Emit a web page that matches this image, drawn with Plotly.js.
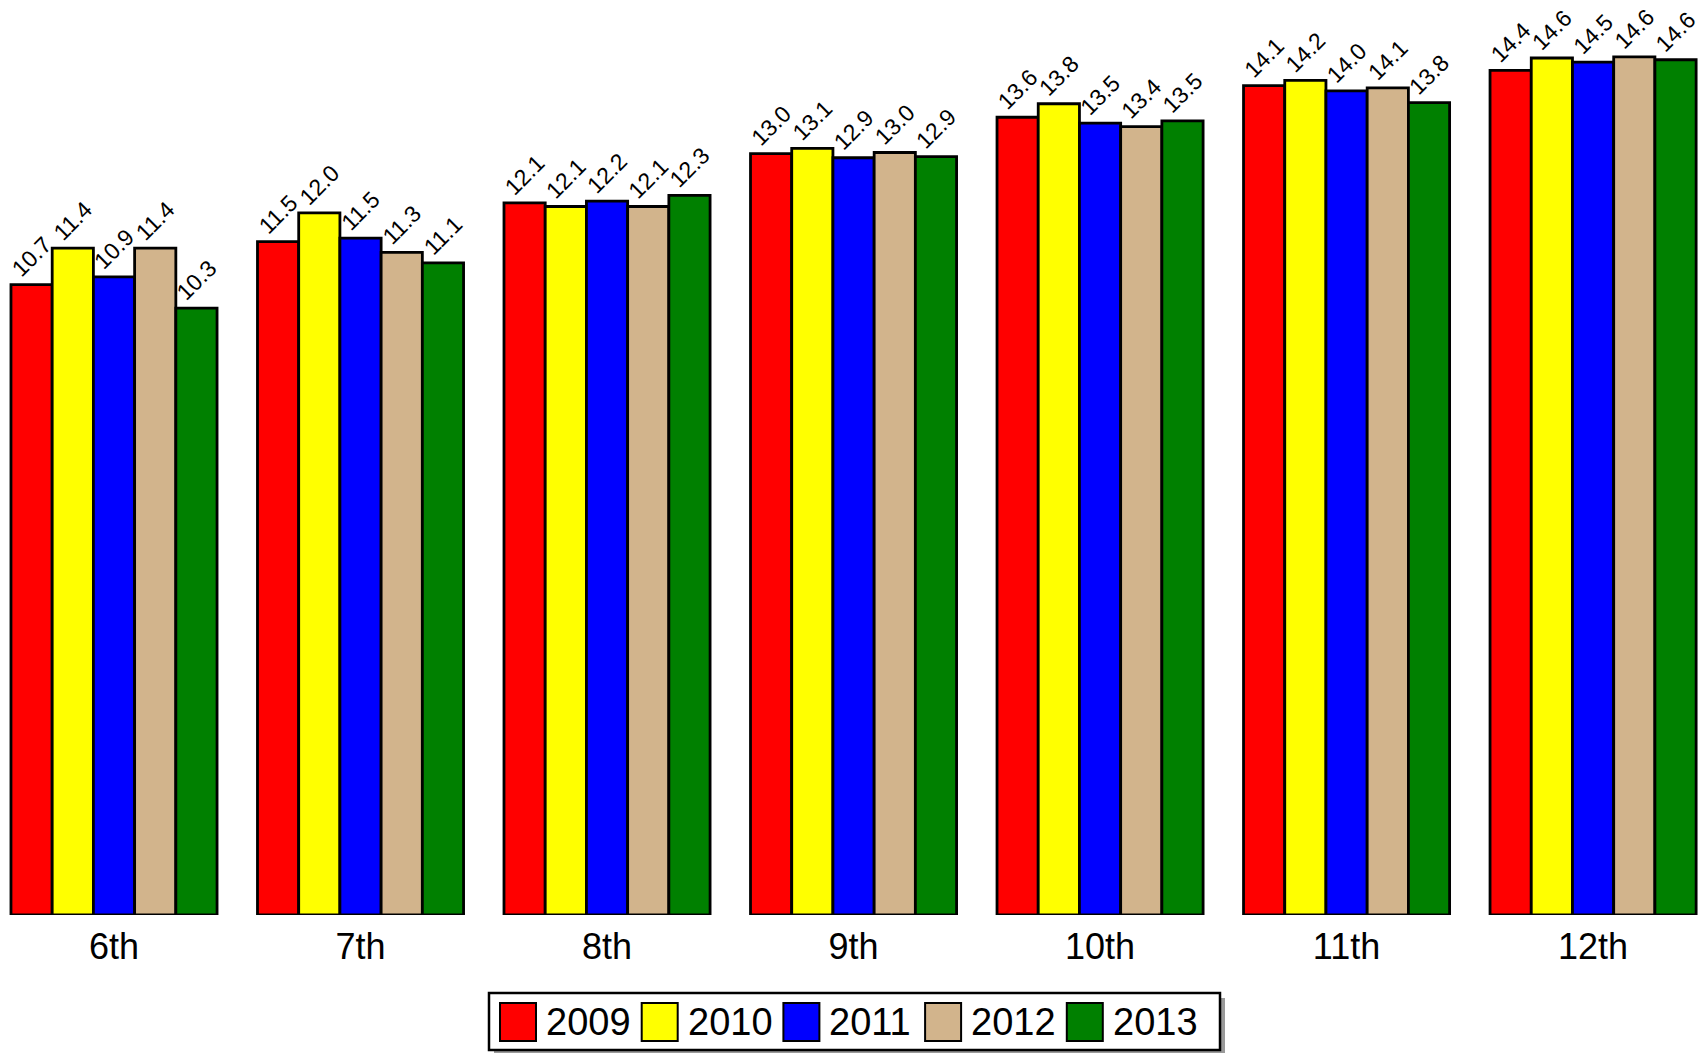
<!DOCTYPE html>
<html>
<head>
<meta charset="utf-8">
<script src="https://cdn.plot.ly/plotly-3.0.1.min.js"></script>
<style>html,body{margin:0;padding:0;background:#fff;}#chart{width:1705px;height:1053px;}</style>
</head>
<body>
<div id="chart"></div>
<script>
const categories = ['6th', '7th', '8th', '9th', '10th', '11th', '12th'];
const years = ['2009', '2010', '2011', '2012', '2013'];
const colors = ['#FF0000', '#FFFF00', '#0000FF', '#D2B48C', '#008000'];
const v2009 = [10.74, 11.47, 12.13, 12.97, 13.59, 14.13, 14.39];
const v2010 = [11.36, 11.96, 12.07, 13.06, 13.82, 14.22, 14.60];
const v2011 = [10.87, 11.53, 12.16, 12.90, 13.49, 14.04, 14.53];
const v2012 = [11.36, 11.29, 12.07, 12.99, 13.43, 14.09, 14.62];
const v2013 = [10.34, 11.11, 12.26, 12.92, 13.53, 13.84, 14.57];
const series = [v2009, v2010, v2011, v2012, v2013];

const W = 1705, H = 1053;
const M = {l: 0, r: 0, t: 0, b: 138};
const plotH = H - M.t - M.b, plotW = W - M.l - M.r;
const FONT = '"Liberation Sans", Arial, Helvetica, sans-serif';

const traces = series.map((vals, i) => ({
  type: 'bar',
  name: years[i],
  x: categories,
  y: vals,
  marker: {color: colors[i], line: {color: '#000', width: 2.8}},
  texttemplate: '%{y:.1f}',
  textposition: 'outside',
  textangle: -45,
  constraintext: 'none',
  cliponaxis: false,
  textfont: {family: FONT, size: 23, color: '#000'},
  showlegend: false,
  hoverinfo: 'x+y+name'
}));

// custom legend (built from the years/colors arrays)
const px2x = p => (p - M.l) / plotW;
const px2y = p => (M.t + plotH - p) / plotH;
const shapes = [];
const annotations = [];
const box = {x0: 489, x1: 1220, y0: 993, y1: 1050};
shapes.push({type: 'rect', xref: 'paper', yref: 'paper', x0: px2x(box.x0 + 5), x1: px2x(box.x1 + 5), y0: px2y(box.y0 + 5), y1: px2y(box.y1 + 5), fillcolor: '#9a9a9a', line: {width: 0}, layer: 'above'});
shapes.push({type: 'rect', xref: 'paper', yref: 'paper', x0: px2x(box.x0), x1: px2x(box.x1), y0: px2y(box.y0), y1: px2y(box.y1), fillcolor: '#fff', line: {color: '#000', width: 2.5}, layer: 'above'});
const step = 141.7, sx0 = 500, sw = 36, sy0 = 1003, sh = 38;
years.forEach((yr, i) => {
  const x0 = sx0 + i * step;
  shapes.push({type: 'rect', xref: 'paper', yref: 'paper', x0: px2x(x0), x1: px2x(x0 + sw), y0: px2y(sy0), y1: px2y(sy0 + sh), fillcolor: colors[i], line: {color: '#000', width: 2}, layer: 'above'});
  annotations.push({xref: 'paper', yref: 'paper', x: px2x(x0 + sw + 8), y: px2y(sy0 + sh / 2), xanchor: 'left', yanchor: 'middle', showarrow: false, text: yr, font: {family: FONT, size: 38, color: '#000'}});
});

const layout = {
  width: W, height: H,
  margin: M,
  paper_bgcolor: '#fff', plot_bgcolor: '#fff',
  barmode: 'group', bargap: 0.164, bargroupgap: 0,
  font: {family: FONT, color: '#000'},
  xaxis: {type: 'category', range: [-0.4625, 6.454], ticks: '', showline: false, showgrid: false, zeroline: false,
          ticklabelstandoff: 7,
          tickfont: {family: FONT, size: 36, color: '#000'}},
  yaxis: {range: [0, plotH / 58.7], visible: false, showgrid: false, zeroline: false},
  shapes: shapes,
  annotations: annotations,
  showlegend: false
};

Plotly.newPlot('chart', traces, layout, {displayModeBar: false, staticPlot: true});
</script>
</body>
</html>
